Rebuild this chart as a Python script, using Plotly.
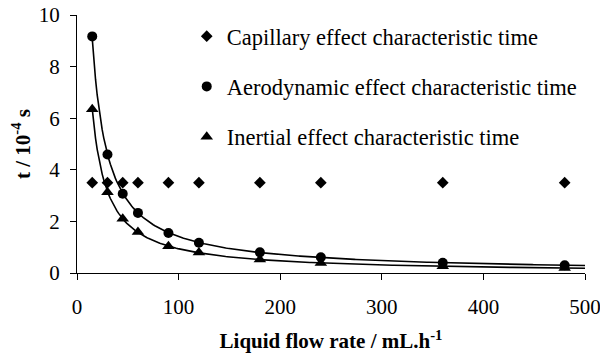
import numpy as np
import plotly.graph_objects as go

flow_rate = [15, 30, 45, 60, 90, 120, 180, 240, 360, 480]
capillary = [3.5, 3.5, 3.5, 3.5, 3.5, 3.5, 3.5, 3.5, 3.5, 3.5]
aerodynamic = [9.17, 4.59, 3.07, 2.33, 1.55, 1.17, 0.80, 0.61, 0.40, 0.30]
inertial = [6.35, 3.13, 2.10, 1.59, 1.04, 0.79, 0.52, 0.39, 0.26, 0.19]

names = ["Capillary effect characteristic time",
         "Aerodynamic effect characteristic time",
         "Inertial effect characteristic time"]

FONT = "Liberation Serif, Times New Roman, serif"


def power_fit(x, y):
    b, ln_a = np.polyfit(np.log(x), np.log(y), 1)
    xs = np.linspace(min(x), 500, 300)
    return xs, np.exp(ln_a) * xs ** b


fig = go.Figure()
fig.add_trace(go.Scatter(x=flow_rate, y=capillary, mode="markers", name=names[0],
                         legendgroup="a",
                         marker=dict(symbol="diamond", size=9, color="black")))
fig.add_trace(go.Scatter(x=flow_rate, y=aerodynamic, mode="markers", name=names[1],
                         legendgroup="b",
                         marker=dict(symbol="circle", size=10, color="black")))
fig.add_trace(go.Scatter(x=flow_rate, y=inertial, mode="markers", name=names[2],
                         legendgroup="c",
                         marker=dict(symbol="triangle-up", size=11, color="black")))

for ys in (aerodynamic, inertial):
    xs, yf = power_fit(flow_rate, ys)
    fig.add_trace(go.Scatter(x=xs, y=yf, mode="lines", showlegend=False,
                             line=dict(color="black", width=1.6), hoverinfo="skip"))

axis_common = dict(showline=True, linecolor="black", linewidth=1, ticks="outside",
                   ticklen=6, tickcolor="black", showgrid=False, zeroline=False,
                   automargin=False, ticklabeloverflow="allow",
                   tickfont=dict(family=FONT, size=21, color="black"))

# the page body has an 8px margin, so the figure is drawn 8px smaller
fig.update_layout(
    width=600, height=350,
    margin=dict(l=69, r=23, t=7, b=85, autoexpand=False),
    paper_bgcolor="white", plot_bgcolor="white",
    font=dict(family=FONT, color="black", size=21),
    xaxis=dict(range=[0, 500], dtick=100, ticklabelstandoff=9,
               title=dict(text="<b>Liquid flow rate / mL.h<sup>-1</sup></b>",
                          font=dict(family=FONT, size=21), standoff=15),
               **axis_common),
    yaxis=dict(range=[0, 10], dtick=2, ticklabelstandoff=6,
               title=dict(text="<b>t / 10<sup>-4</sup> s</b>",
                          font=dict(family=FONT, size=21), standoff=2),
               **axis_common),
    legend=dict(x=0.216, y=1.0, xanchor="left", yanchor="top",
                font=dict(family=FONT, size=22.5, color="black"),
                bgcolor="rgba(0,0,0,0)", traceorder="grouped",
                tracegroupgap=18, itemwidth=30),
    showlegend=True,
)

fig.write_html("out.html")
